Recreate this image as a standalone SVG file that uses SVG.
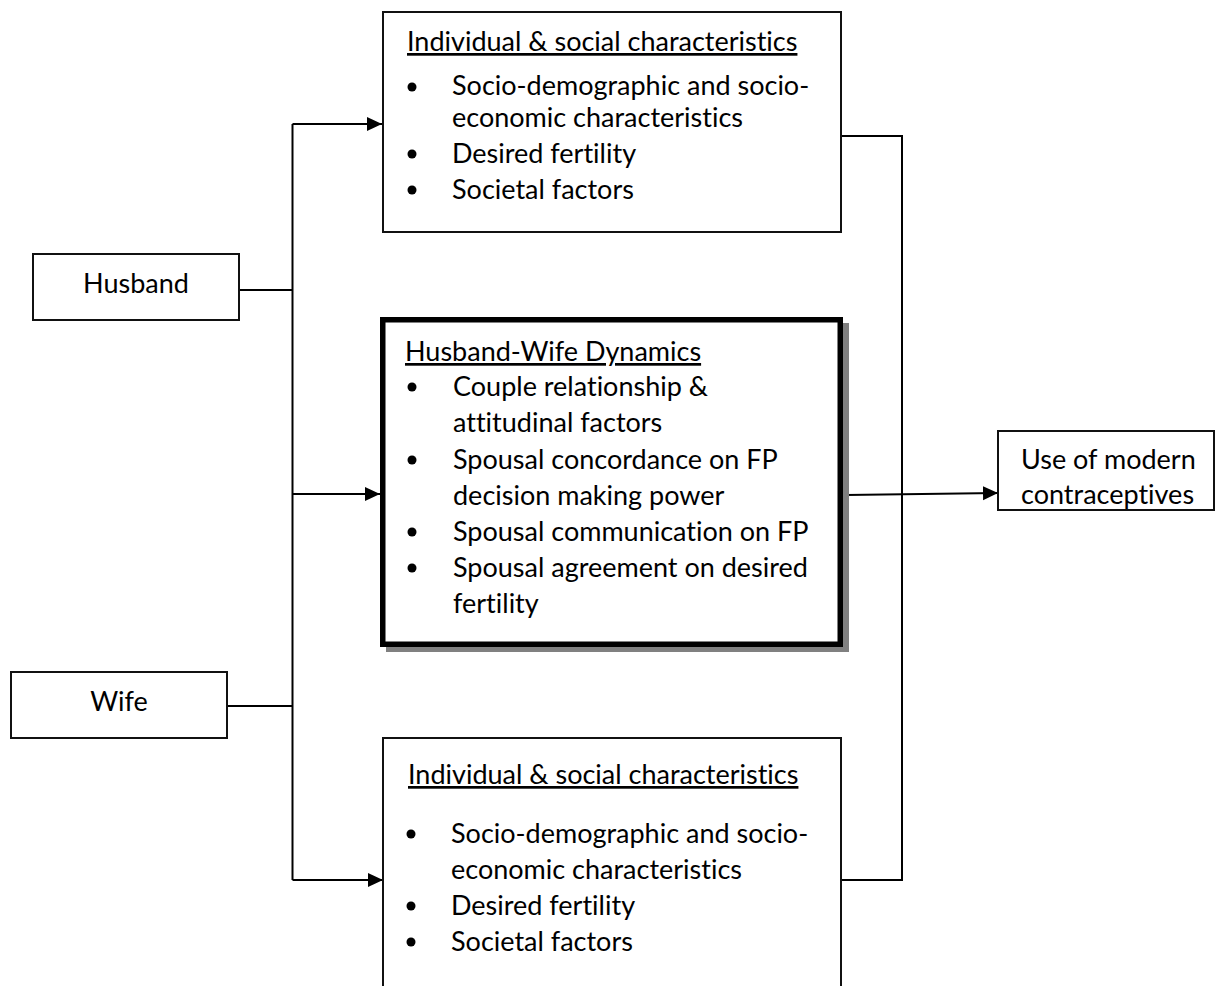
<svg xmlns="http://www.w3.org/2000/svg" width="1217" height="986" viewBox="0 0 1217 986">
<style>
.box{fill:#fff;stroke:#111;stroke-width:2}
.thick{fill:#fff;stroke:#000;stroke-width:5.5}
.shadow{fill:#808080}
.t{font-family:Lato,"Open Sans","Liberation Sans",sans-serif;font-size:27px;fill:#000;font-variant-ligatures:none;font-feature-settings:"liga" 0,"clig" 0}
.u{text-decoration:underline}
.b{fill:#000}
.c{fill:none;stroke:#000;stroke-width:2}
</style>
<defs>
<marker id="ah" markerUnits="userSpaceOnUse" markerWidth="16" markerHeight="16" viewBox="0 0 16 16" refX="15" refY="8" orient="auto">
<path d="M0,1 L15,8 L0,15 Z" fill="#000"/>
</marker>
</defs>
<g id="connectors">
<line class="c" x1="239" y1="290" x2="292.5" y2="290"/>
<line class="c" x1="227" y1="706" x2="292.5" y2="706"/>
<line class="c" x1="292.5" y1="124" x2="292.5" y2="880"/>
<line class="c" x1="292.5" y1="124" x2="382" y2="124" marker-end="url(#ah)"/>
<line class="c" x1="292.5" y1="494" x2="380" y2="494" marker-end="url(#ah)"/>
<line class="c" x1="292.5" y1="880" x2="383" y2="880" marker-end="url(#ah)"/>
<polyline class="c" points="841,136 902,136 902,880 841,880"/>
<line class="c" x1="846" y1="495" x2="998" y2="493" marker-end="url(#ah)"/>
</g>
<g id="husband">
<rect class="box" x="33" y="254" width="206" height="66"/>
<text class="t" x="136" y="293" text-anchor="middle">Husband</text>
</g>
<g id="wife">
<rect class="box" x="11" y="672" width="216" height="66"/>
<text class="t" x="119" y="711" text-anchor="middle">Wife</text>
</g>
<g id="individual-top">
<rect class="box" x="383" y="12" width="458" height="220"/>
<text class="t u" x="407" y="51">Individual &amp; social characteristics</text>
<circle class="b" cx="412" cy="87" r="4.5"/>
<text class="t" x="452" y="95">Socio-demographic and socio-</text>
<text class="t" x="452" y="127">economic characteristics</text>
<circle class="b" cx="412" cy="154" r="4.5"/>
<text class="t" x="452" y="163">Desired fertility</text>
<circle class="b" cx="412" cy="190" r="4.5"/>
<text class="t" x="452" y="199">Societal factors</text>
</g>
<g id="dynamics">
<rect class="shadow" x="386" y="323" width="463" height="329"/>
<rect class="thick" x="382.75" y="319.75" width="457.5" height="324.5"/>
<text class="t u" x="405" y="361">Husband-Wife Dynamics</text>
<circle class="b" cx="412" cy="387" r="4.5"/>
<text class="t" x="453" y="396">Couple relationship &amp;</text>
<text class="t" x="453" y="432">attitudinal factors</text>
<circle class="b" cx="412" cy="460" r="4.5"/>
<text class="t" x="453" y="469">Spousal concordance on FP</text>
<text class="t" x="453" y="505">decision making power</text>
<circle class="b" cx="412" cy="532" r="4.5"/>
<text class="t" x="453" y="541">Spousal communication on FP</text>
<circle class="b" cx="412" cy="568" r="4.5"/>
<text class="t" x="453" y="577">Spousal agreement on desired</text>
<text class="t" x="453" y="613">fertility</text>
</g>
<g id="outcome">
<rect class="box" x="998" y="431" width="216" height="79"/>
<text class="t" x="1021" y="469">Use of modern</text>
<text class="t" x="1021" y="504">contraceptives</text>
</g>
<g id="individual-bottom">
<rect class="box" x="383" y="738" width="458" height="270"/>
<text class="t u" x="408" y="784">Individual &amp; social characteristics</text>
<circle class="b" cx="411" cy="834" r="4.5"/>
<text class="t" x="451" y="843">Socio-demographic and socio-</text>
<text class="t" x="451" y="879">economic characteristics</text>
<circle class="b" cx="411" cy="906" r="4.5"/>
<text class="t" x="451" y="915">Desired fertility</text>
<circle class="b" cx="411" cy="942" r="4.5"/>
<text class="t" x="451" y="951">Societal factors</text>
</g>
</svg>
